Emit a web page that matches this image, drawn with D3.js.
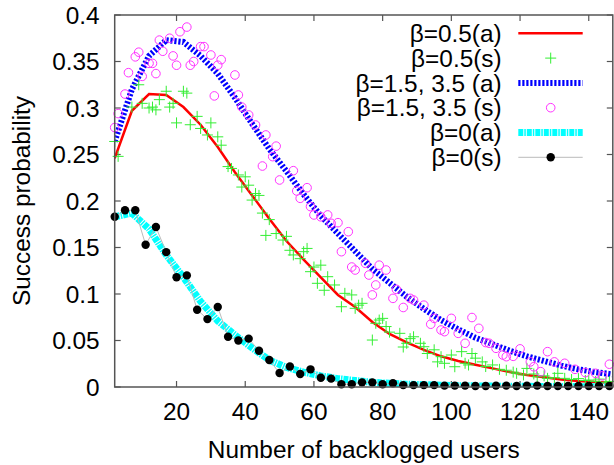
<!DOCTYPE html>
<html><head><meta charset="utf-8">
<script src="https://cdn.jsdelivr.net/npm/d3@7"></script>
<style>
html,body{margin:0;padding:0;background:#fff;}
svg text{font-family:"Liberation Sans",Arial,Helvetica,sans-serif;}
</style>
</head><body>
<svg id="chart" width="614" height="465"></svg>
<script>
// ---------- data ----------
const nAnalytic = [2,7,12,17,22,27,32,37,42,47,52,57,62,67,72,77,82,87,92,97,102,107,112,117,122,127,132,137,142,147];
const halfA = [0.246,0.297,0.315,0.314,0.301,0.282,0.258,0.231,0.206,0.181,0.157,0.137,0.118,0.099,0.086,0.070,0.057,0.048,0.040,0.033,0.028,0.024,0.020,0.016,0.013,0.0105,0.008,0.0065,0.0055,0.0045];
const highA = [0.264,0.320,0.356,0.373,0.371,0.356,0.337,0.311,0.283,0.256,0.232,0.207,0.184,0.165,0.146,0.127,0.112,0.097,0.084,0.072,0.062,0.053,0.046,0.039,0.033,0.028,0.023,0.019,0.016,0.0135];
const zeroA = [0.183,0.187,0.170,0.142,0.118,0.092,0.071,0.056,0.042,0.029,0.021,0.016,0.012,0.009,0.007,0.005,0.004,0.003,0.0025,0.002,0.0015,0.0012,0.001,0.0008,0.0007,0.0006,0.0005,0.0004,0.0004,0.0003];

const halfSN = [2,3,7,9,10,12,13,14,15,17,18,19,20,22,23,24,26,27,29,30,32,33,35,36,38,39,40,41,42,43,44,45,46,47,49,51,52,53,54,56,57,58,59,60,61,62,63,64,66,68,69,71,72,73,74,77,78,79,80,81,82,85,86,87,88,89,91,92,93,95,96,97,98,100,101,103,104,105,106,107,109,110,112,114,116,118,119,121,122,124,125,127,128,130,131,133,135,137,139,140,142,143,145,146];
const halfSP = [0.264,0.248,0.301,0.325,0.305,0.300,0.301,0.298,0.309,0.318,0.301,0.305,0.284,0.318,0.316,0.282,0.291,0.278,0.271,0.284,0.269,0.260,0.237,0.235,0.228,0.215,0.226,0.217,0.201,0.208,0.206,0.187,0.163,0.180,0.165,0.158,0.162,0.147,0.142,0.138,0.1455,0.149,0.124,0.129,0.1115,0.131,0.104,0.1186,0.1097,0.0863,0.1007,0.099,0.0846,0.088,0.090,0.0505,0.0685,0.072,0.0738,0.065,0.059,0.0577,0.043,0.047,0.052,0.054,0.047,0.0433,0.036,0.040,0.027,0.0326,0.0255,0.0344,0.0218,0.038,0.0255,0.0237,0.036,0.031,0.027,0.022,0.0237,0.019,0.018,0.016,0.0147,0.013,0.020,0.014,0.011,0.012,0.0093,0.010,0.0147,0.0093,0.008,0.009,0.007,0.0075,0.006,0.0085,0.005,0.006];

const highSN = [2,3,5,6,8,9,10,12,13,14,15,16,18,19,20,21,23,24,25,27,28,30,31,32,33,37,38,39,41,43,45,46,48,49,50,54,55,56,58,59,60,62,64,65,67,68,70,71,72,75,76,77,78,79,81,83,84,86,88,89,92,94,95,97,98,100,102,104,106,108,110,111,113,115,116,118,120,123,124,126,128,130,133,136,139,142,144,146];
const highSP = [0.279,0.294,0.315,0.338,0.355,0.360,0.334,0.348,0.348,0.337,0.373,0.361,0.375,0.356,0.346,0.382,0.387,0.346,0.350,0.366,0.366,0.357,0.313,0.346,0.352,0.3355,0.314,0.301,0.2925,0.2817,0.2376,0.271,0.2477,0.259,0.2226,0.2326,0.2108,0.2029,0.2143,0.194,0.185,0.183,0.185,0.176,0.1767,0.1455,0.167,0.129,0.1258,0.133,0.1204,0.099,0.1097,0.131,0.1258,0.0953,0.105,0.0855,0.0953,0.0935,0.088,0.0675,0.0738,0.0613,0.0595,0.0738,0.0577,0.047,0.0747,0.0631,0.0478,0.047,0.0416,0.0344,0.0326,0.033,0.041,0.027,0.0218,0.0165,0.038,0.027,0.0255,0.019,0.0155,0.0147,0.012,0.0245];

const zeroSN = [2,5,8,11,14,17,20,23,26,29,32,35,38,41,44,47,50,53,56,59,62,65,68,71,74,77,80,83,86,89,92,95,98,101,104,107,110,113,116,119,122,125,128,131,134,137,140,143,146];
const zeroSP = [0.183,0.190,0.190,0.153,0.172,0.145,0.118,0.120,0.083,0.073,0.086,0.054,0.050,0.052,0.039,0.029,0.015,0.022,0.014,0.019,0.010,0.009,0.003,0.003,0.005,0.005,0.003,0.004,0.002,0.002,0.002,0.002,0.0015,0.0015,0.0015,0.001,0.001,0.0015,0.0015,0.001,0.0015,0.0015,0.001,0.001,0.001,0.001,0.001,0.001,0.001];

const xTicks = [20,40,60,80,100,120,140];
const yTicks = [0,0.05,0.1,0.15,0.2,0.25,0.3,0.35,0.4];
const yTickLabels = ["0","0.05","0.1","0.15","0.2","0.25","0.3","0.35","0.4"];
const legendLabels = ["β=0.5(a)","β=0.5(s)","β=1.5, 3.5 (a)","β=1.5, 3.5 (s)","β=0(a)","β=0(s)"];
const xTitle = "Number of backlogged users";
const yTitle = "Success probability";

// ---------- layout ----------
const svg = d3.select("#chart");
const L = 114.7, R = 612.8, T = 15, B = 387;
const x = d3.scaleLinear().domain([2,147]).range([L,R]);
const y = d3.scaleLinear().domain([0,0.4]).range([B,T]);
const FS = "24.4px";
const axisColor = "#555";
const tickLen = 6;

const zip = (a,b) => a.map((v,i)=>[v,b[i]]);
const line = d3.line().x(d=>x(d[0])).y(d=>y(d[1]));

svg.append("defs").append("clipPath").attr("id","clip")
  .append("rect").attr("x",L).attr("y",T).attr("width",R-L).attr("height",B-T);

// ticks (inward, mirrored)
const g = svg.append("g");
yTicks.forEach((t,i)=>{
  g.append("line").attr("x1",L).attr("x2",L+tickLen).attr("y1",y(t)).attr("y2",y(t)).attr("stroke",axisColor).attr("stroke-width",1.2);
  g.append("line").attr("x1",R).attr("x2",R-tickLen).attr("y1",y(t)).attr("y2",y(t)).attr("stroke",axisColor).attr("stroke-width",1.2);
  g.append("text").attr("x",L-15).attr("y",y(t)).attr("dy","0.36em").attr("text-anchor","end")
    .attr("font-size",FS).attr("fill","#000").text(yTickLabels[i]);
});
xTicks.forEach(t=>{
  g.append("line").attr("x1",x(t)).attr("x2",x(t)).attr("y1",B).attr("y2",B-tickLen).attr("stroke",axisColor).attr("stroke-width",1.2);
  g.append("line").attr("x1",x(t)).attr("x2",x(t)).attr("y1",T).attr("y2",T+tickLen).attr("stroke",axisColor).attr("stroke-width",1.2);
  g.append("text").attr("x",x(t)).attr("y",420).attr("text-anchor","middle")
    .attr("font-size",FS).attr("fill","#000").text(t);
});

// titles
svg.append("text").attr("x",(L+R)/2).attr("y",458).attr("text-anchor","middle")
  .attr("font-size",FS).text(xTitle);
svg.append("text").attr("transform",`translate(30,${(T+B)/2}) rotate(-90)`).attr("text-anchor","middle")
  .attr("font-size",FS).text(yTitle);

// ---------- series ----------
const plot = svg.append("g");
const clipped = plot.append("g").attr("clip-path","url(#clip)");

// β=0.5(a)
clipped.append("path").datum(zip(nAnalytic,halfA)).attr("d",line)
  .attr("fill","none").attr("stroke","#ff0000").attr("stroke-width",2.5);

// β=0.5(s)
const plusSize = 5.5;
const plusPath = (cx,cy,s)=>`M${cx-s},${cy}H${cx+s}M${cx},${cy-s}V${cy+s}`;
plot.append("g").selectAll("path").data(zip(halfSN,halfSP)).join("path")
  .attr("d",d=>plusPath(x(d[0]),y(d[1]),plusSize))
  .attr("stroke","#33ee33").attr("stroke-width",1).attr("fill","none");

// β=1.5,3.5(a)
clipped.append("path").datum(zip(nAnalytic,highA)).attr("d",line)
  .attr("fill","none").attr("stroke","#0000ff").attr("stroke-width",6).attr("stroke-dasharray","2.2,1.8");

// β=1.5,3.5(s)
plot.append("g").selectAll("circle").data(zip(highSN,highSP)).join("circle")
  .attr("cx",d=>x(d[0])).attr("cy",d=>y(d[1])).attr("r",4.3)
  .attr("fill","none").attr("stroke","#ff33ff").attr("stroke-width",1);

// β=0(a)
clipped.append("path").datum(zip(nAnalytic,zeroA)).attr("d",line)
  .attr("fill","none").attr("stroke","#00ffff").attr("stroke-width",7).attr("stroke-dasharray","5,1,1.5,1");

// β=0(s)
clipped.append("path").datum(zip(zeroSN,zeroSP)).attr("d",line)
  .attr("fill","none").attr("stroke","#bbbbbb").attr("stroke-width",1);
plot.append("g").selectAll("circle").data(zip(zeroSN,zeroSP)).join("circle")
  .attr("cx",d=>x(d[0])).attr("cy",d=>y(d[1])).attr("r",4.2).attr("fill","#000");

// frame
svg.append("rect").attr("x",L).attr("y",T).attr("width",R-L).attr("height",B-T)
  .attr("fill","none").attr("stroke",axisColor).attr("stroke-width",1.5);

// ---------- legend ----------
const lg = svg.append("g");
const rowY0 = 33.3, rowDY = 24.8, textX = 501.7, s1 = 518.3, s2 = 582.7, sc = 550.7;
legendLabels.forEach((lab,i)=>{
  const cy = rowY0 + i*rowDY;
  lg.append("text").attr("x",textX).attr("y",cy+8.7).attr("text-anchor","end")
    .attr("font-size",FS).text(lab);
  if(i===0) lg.append("line").attr("x1",s1).attr("x2",s2).attr("y1",cy).attr("y2",cy).attr("stroke","#ff0000").attr("stroke-width",2.5);
  if(i===1) lg.append("path").attr("d",plusPath(sc,cy,plusSize)).attr("stroke","#33ee33").attr("stroke-width",1);
  if(i===2) lg.append("line").attr("x1",s1).attr("x2",s2).attr("y1",cy).attr("y2",cy).attr("stroke","#0000ff").attr("stroke-width",6).attr("stroke-dasharray","2.2,1.8");
  if(i===3) lg.append("circle").attr("cx",sc).attr("cy",cy).attr("r",4.3).attr("fill","none").attr("stroke","#ff33ff").attr("stroke-width",1);
  if(i===4) lg.append("line").attr("x1",s1).attr("x2",s2).attr("y1",cy).attr("y2",cy).attr("stroke","#00ffff").attr("stroke-width",7).attr("stroke-dasharray","5,1,1.5,1");
  if(i===5){
    lg.append("line").attr("x1",s1).attr("x2",s2).attr("y1",cy).attr("y2",cy).attr("stroke","#bbbbbb").attr("stroke-width",1);
    lg.append("circle").attr("cx",sc).attr("cy",cy).attr("r",4.2).attr("fill","#000");
  }
});
</script>
</body></html>
